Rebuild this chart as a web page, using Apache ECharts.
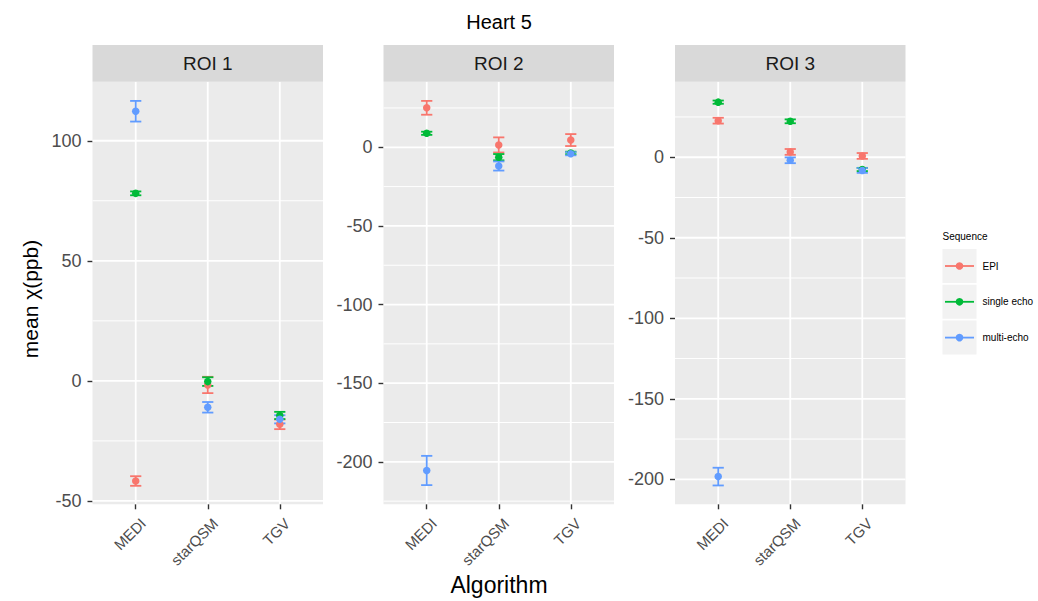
<!DOCTYPE html>
<html>
<head>
<meta charset="utf-8">
<title>Heart 5</title>
<script src="https://cdn.jsdelivr.net/npm/echarts@6/dist/echarts.min.js"></script>
<style>
  html, body { margin: 0; padding: 0; background: #ffffff; }
  #chart { width: 1038px; height: 601px; }
</style>
</head>
<body>
<div id="chart"></div>
<script>
// Categories and groups
const categories = ['MEDI', 'starQSM', 'TGV'];
const sequences = ['EPI', 'single echo', 'multi-echo'];
const rois = ['ROI 1', 'ROI 2', 'ROI 3'];

// Mean susceptibility (ppb) and error-bar half widths, in category order
const roi1EPI = [-41.7, -1.7, -18.1];
const roi1EPIErr = [2.0, 3.4, 2.0];
const roi1Single = [78.1, -0.3, -14.4];
const roi1SingleErr = [0.8, 1.8, 1.5];
const roi1Multi = [112.3, -11.0, -16.0];
const roi1MultiErr = [4.3, 2.2, 1.7];

const roi2EPI = [25.1, 1.5, 4.6];
const roi2EPIErr = [4.4, 4.8, 3.8];
const roi2Single = [8.9, -6.3, -3.6];
const roi2SingleErr = [1.0, 2.0, 0.8];
const roi2Multi = [-205.5, -11.9, -4.1];
const roi2MultiErr = [9.3, 2.9, 1.0];

const roi3EPI = [22.7, 3.3, 0.8];
const roi3EPIErr = [1.8, 1.8, 1.8];
const roi3Single = [34.2, 22.3, -7.6];
const roi3SingleErr = [1.0, 1.2, 1.0];
const roi3Multi = [-198.3, -1.9, -8.2];
const roi3MultiErr = [5.5, 1.8, 1.5];

// Y-axis tick labels per panel
const roi1Ticks = [-50, 0, 50, 100];
const roi2Ticks = [-200, -150, -100, -50, 0];
const roi3Ticks = [-200, -150, -100, -50, 0];

// Y-axis limits per panel
const roi1Range = [-51.4, 124.6];
const roi2Range = [-227.0, 41.7];
const roi3Range = [-215.5, 46.9];

const seqColors = ['#F8766D', '#00BA38', '#619CFF'];
const FONT = 'Liberation Sans, Arial, Helvetica, sans-serif';

const panels = [
  { name: rois[0], ticks: roi1Ticks, range: roi1Range,
    means: [roi1EPI, roi1Single, roi1Multi], errs: [roi1EPIErr, roi1SingleErr, roi1MultiErr] },
  { name: rois[1], ticks: roi2Ticks, range: roi2Range,
    means: [roi2EPI, roi2Single, roi2Multi], errs: [roi2EPIErr, roi2SingleErr, roi2MultiErr] },
  { name: rois[2], ticks: roi3Ticks, range: roi3Range,
    means: [roi3EPI, roi3Single, roi3Multi], errs: [roi3EPIErr, roi3SingleErr, roi3MultiErr] }
];

// Panel geometry (px)
const panelLefts = [92.5, 383.5, 675];
const panelWidth = 230.5;
const stripTop = 45;
const plotTop = 81.7;
const plotHeight = 422.6;

// Minor grid positions: halfway between major breaks, extended one step past each end
function minorBreaks(ticks, range) {
  const step = ticks[1] - ticks[0];
  const out = [];
  for (let v = ticks[0] - step / 2; v <= ticks[ticks.length - 1] + step; v += step) {
    if (v > range[0] && v < range[1]) out.push(v);
  }
  return out;
}

const grids = [], xAxes = [], yAxes = [], series = [], graphics = [];
const tickStyle = { color: '#333333', width: 1.4 };

panels.forEach((p, k) => {
  grids.push({
    left: panelLefts[k], top: plotTop, width: panelWidth, height: plotHeight,
    show: true, backgroundColor: '#EBEBEB', borderWidth: 0, containLabel: false
  });
  xAxes.push({
    type: 'value', gridIndex: k, min: 0.4, max: 3.6, position: 'bottom',
    axisLine: { show: false, onZero: false },
    splitLine: { show: false },
    axisTick: { show: true, customValues: [1, 2, 3], length: 5, lineStyle: tickStyle },
    axisLabel: {
      customValues: [1, 2, 3], rotate: 45, margin: 9,
      align: 'right', verticalAlign: 'top', padding: [3, 0, 0, 0],
      fontSize: 15, color: '#4D4D4D', fontFamily: FONT,
      formatter: v => categories[Math.round(v) - 1]
    }
  });
  yAxes.push({
    type: 'value', gridIndex: k, min: p.range[0], max: p.range[1], position: 'left',
    axisLine: { show: false, onZero: false },
    splitLine: { show: false },
    axisTick: { show: true, customValues: p.ticks, length: 5, lineStyle: tickStyle },
    axisLabel: {
      customValues: p.ticks, margin: 11,
      fontSize: 18, color: '#4D4D4D', fontFamily: FONT
    }
  });

  // Panel grid lines: minor horizontals (0), major horizontals (1), category verticals (2)
  const lines = [];
  minorBreaks(p.ticks, p.range).forEach(v => lines.push([0, v]));
  p.ticks.forEach(v => lines.push([1, v]));
  categories.forEach((c, i) => lines.push([2, i + 1]));
  series.push({
    type: 'custom', xAxisIndex: k, yAxisIndex: k, silent: true, z: 1, clip: true,
    data: lines,
    encode: { x: -1, y: -1 },
    renderItem(params, api) {
      const kind = api.value(0), v = api.value(1);
      const cs = params.coordSys;
      let shape;
      if (kind === 2) {
        const x = api.coord([v, p.range[0]])[0];
        shape = { x1: x, y1: cs.y, x2: x, y2: cs.y + cs.height };
      } else {
        const y = api.coord([1, v])[1];
        shape = { x1: cs.x, y1: y, x2: cs.x + cs.width, y2: y };
      }
      return { type: 'line', shape, style: { stroke: '#FFFFFF', lineWidth: kind === 0 ? 1.0 : 1.8 } };
    }
  });

  // Error bars
  sequences.forEach((s, j) => {
    series.push({
      type: 'custom', name: s, xAxisIndex: k, yAxisIndex: k, z: 3, silent: true,
      data: categories.map((c, i) => [i + 1, p.means[j][i] - p.errs[j][i], p.means[j][i] + p.errs[j][i]]),
      encode: { x: 0, y: [1, 2] },
      renderItem(params, api) {
        const x = api.value(0);
        const lo = api.coord([x, api.value(1)]);
        const hi = api.coord([x, api.value(2)]);
        const hw = 5.6;
        const st = { stroke: seqColors[j], lineWidth: 1.8 };
        return {
          type: 'group',
          children: [
            { type: 'line', shape: { x1: lo[0], y1: lo[1], x2: hi[0], y2: hi[1] }, style: st },
            { type: 'line', shape: { x1: lo[0] - hw, y1: lo[1], x2: lo[0] + hw, y2: lo[1] }, style: st },
            { type: 'line', shape: { x1: hi[0] - hw, y1: hi[1], x2: hi[0] + hw, y2: hi[1] }, style: st }
          ]
        };
      }
    });
  });

  // Mean points
  sequences.forEach((s, j) => {
    series.push({
      type: 'scatter', name: s, xAxisIndex: k, yAxisIndex: k, z: 4, silent: true,
      symbol: 'circle', symbolSize: 7.5,
      itemStyle: { color: seqColors[j], opacity: 1 },
      data: categories.map((c, i) => [i + 1, p.means[j][i]])
    });
  });

  // Facet strip
  graphics.push({
    type: 'rect', left: panelLefts[k], top: stripTop, silent: true,
    shape: { width: panelWidth, height: plotTop - stripTop },
    style: { fill: '#D9D9D9' }
  });
  graphics.push({
    type: 'text', x: panelLefts[k] + panelWidth / 2, y: (stripTop + plotTop) / 2, silent: true,
    style: { text: p.name, fontSize: 19, fontFamily: FONT, fill: '#1A1A1A', align: 'center', verticalAlign: 'middle' }
  });
});

// Legend
const legendX = 942.5, legendY0 = 249, keySize = 34, keyGap = 1.8;
graphics.push({
  type: 'text', x: legendX, y: 236, silent: true,
  style: { text: 'Sequence', fontSize: 10, fontFamily: FONT, fill: '#000000', align: 'left', verticalAlign: 'middle' }
});
sequences.forEach((s, j) => {
  const ky = legendY0 + j * (keySize + keyGap);
  const cy = ky + keySize / 2;
  graphics.push({ type: 'rect', x: legendX, y: ky, silent: true, shape: { width: keySize, height: keySize }, style: { fill: '#F2F2F2' } });
  graphics.push({ type: 'line', silent: true, shape: { x1: legendX + 2.5, y1: cy, x2: legendX + keySize - 2.5, y2: cy }, style: { stroke: seqColors[j], lineWidth: 1.8 } });
  graphics.push({ type: 'circle', silent: true, shape: { cx: legendX + keySize / 2, cy: cy, r: 3.8 }, style: { fill: seqColors[j] } });
  graphics.push({
    type: 'text', x: legendX + keySize + 6, y: cy, silent: true,
    style: { text: s, fontSize: 10, fontFamily: FONT, fill: '#000000', align: 'left', verticalAlign: 'middle' }
  });
});

// Axis titles and plot title
graphics.push({
  type: 'text', x: 499, y: 22, silent: true,
  style: { text: 'Heart 5', fontSize: 20, fontFamily: FONT, fill: '#000000', align: 'center', verticalAlign: 'middle' }
});
graphics.push({
  type: 'text', x: 499, y: 585, silent: true,
  style: { text: 'Algorithm', fontSize: 23, fontFamily: FONT, fill: '#000000', align: 'center', verticalAlign: 'middle' }
});
graphics.push({
  type: 'text', x: 30, y: 299, rotation: Math.PI / 2, silent: true,
  style: { text: 'mean χ(ppb)', fontSize: 21, fontFamily: FONT, fill: '#000000', align: 'center', verticalAlign: 'middle' }
});

const chart = echarts.init(document.getElementById('chart'), null, { renderer: 'svg' });
chart.setOption({
  animation: false,
  backgroundColor: '#FFFFFF',
  grid: grids,
  xAxis: xAxes,
  yAxis: yAxes,
  series: series,
  graphic: { elements: graphics }
});
</script>
</body>
</html>
